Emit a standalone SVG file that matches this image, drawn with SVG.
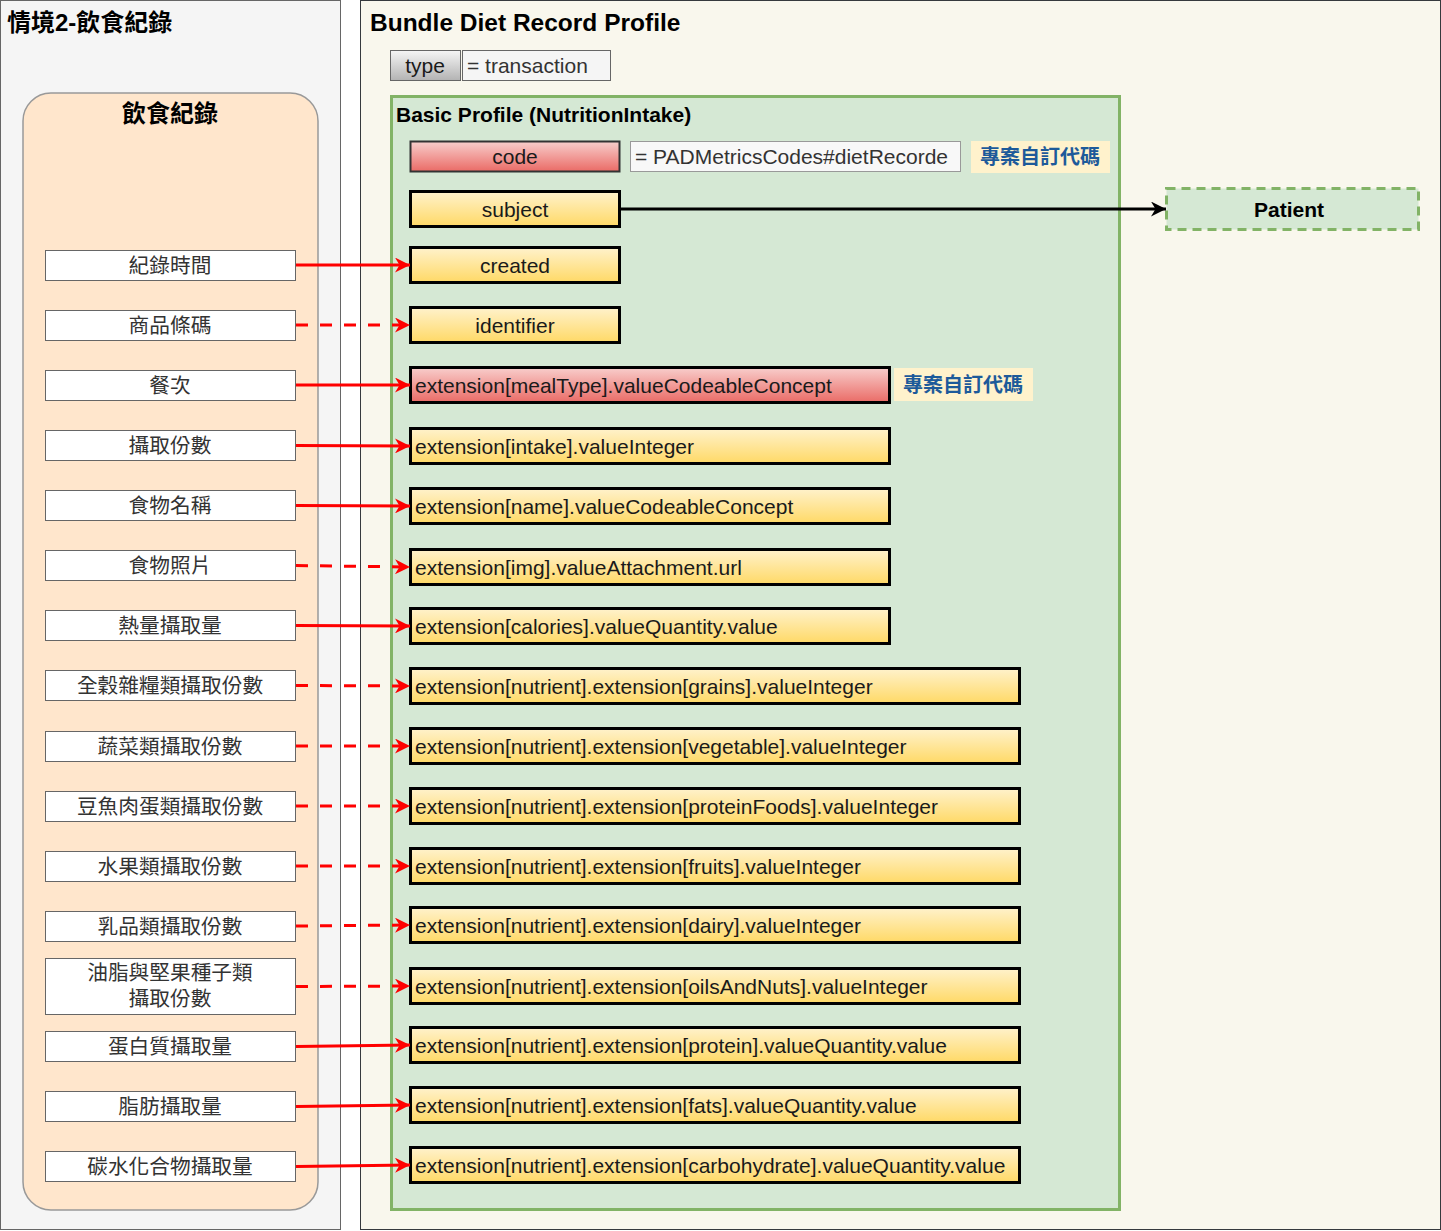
<svg xmlns="http://www.w3.org/2000/svg" width="1441" height="1231" viewBox="0 0 1441 1231">
  <defs>
    <linearGradient id="gYellow" x1="0" y1="0" x2="0" y2="1">
      <stop offset="0" stop-color="#fff2cc"/>
      <stop offset="1" stop-color="#ffd966"/>
    </linearGradient>
    <linearGradient id="gRed" x1="0" y1="0" x2="0" y2="1">
      <stop offset="0" stop-color="#f8cecc"/>
      <stop offset="1" stop-color="#ea6b66"/>
    </linearGradient>
    <linearGradient id="gGray" x1="0" y1="0" x2="0" y2="1">
      <stop offset="0" stop-color="#f5f5f5"/>
      <stop offset="1" stop-color="#b3b3b3"/>
    </linearGradient>
    <marker id="redHead" viewBox="0 0 10 10" refX="10" refY="5" markerWidth="5" markerHeight="5" orient="auto" markerUnits="strokeWidth">
      <path d="M0,0 L10,5 L0,10 L3,5 Z" fill="#ff0000"/>
    </marker>
    <marker id="blackHead" viewBox="0 0 10 10" refX="10" refY="5" markerWidth="5" markerHeight="5" orient="auto" markerUnits="strokeWidth">
      <path d="M0,0 L10,5 L0,10 L3,5 Z" fill="#000000"/>
    </marker>
  </defs>
  <style>
    text { font-family: "Liberation Sans", Arial, "Noto Sans CJK TC", sans-serif; }
    .title { font-size: 24.5px; font-weight: bold; fill: #000; }
    .sub { font-size: 21px; font-weight: bold; fill: #000; }
    .item rect { fill: #ffffff; stroke: #666666; stroke-width: 1; }
    .item text { font-size: 20.7px; fill: #333333; text-anchor: middle; }
    .yel rect { fill: url(#gYellow); stroke: #000; stroke-width: 3; }
    .red rect { fill: url(#gRed); stroke: #000; stroke-width: 3; }
    .fld text { font-size: 21px; fill: #1a1a1a; }
    .ctr text { text-anchor: middle; }
    .note rect { fill: #fff2cc; stroke: none; }
    .note text { font-size: 20px; font-weight: bold; fill: #1d5a9a; text-anchor: middle; }
    .val rect { fill: #f8f8f8; stroke: #999999; stroke-width: 1; }
    .val text { font-size: 21px; fill: #333333; }
    .link { stroke: #ff0000; stroke-width: 3; fill: none; marker-end: url(#redHead); }
    .dash { stroke-dasharray: 12 12; }
  </style>

  <!-- scenario panel -->
  <g id="scenario">
    <rect x="0.5" y="0.5" width="340" height="1229" fill="#f5f5f5" stroke="#666666"/>
    <text class="title" x="7" y="31" style="font-size:24px">情境2-飲食紀錄</text>
  </g>

  <!-- bundle panel -->
  <g id="bundle">
    <rect x="360.5" y="0.5" width="1080" height="1229" fill="#f9f7ed" stroke="#36393d"/>
    <text class="title" x="370" y="31">Bundle Diet Record Profile</text>
  </g>

  <g id="type">
    <rect x="390.5" y="50.5" width="70" height="30" fill="url(#gGray)" stroke="#666666"/>
    <text x="425" y="73" font-size="21" text-anchor="middle" fill="#1a1a1a">type</text>
    <rect x="462.5" y="50.5" width="148" height="30" fill="#f5f5f5" stroke="#666666"/>
    <text x="467" y="73" font-size="21" fill="#333333">= transaction</text>
  </g>

  <!-- diet record source group -->
  <g id="dietRecord">
    <rect x="23" y="93" width="295" height="1117" rx="28" ry="28" fill="#ffe6cc" stroke="#999999" stroke-width="1.5"/>
    <text class="title" x="170" y="122" text-anchor="middle" style="font-size:24px">飲食紀錄</text>
  </g>

  <!-- NutritionIntake profile -->
  <g id="nutritionIntake">
    <rect x="391.5" y="96.5" width="728" height="1113" fill="#d5e8d4" stroke="#82b366" stroke-width="3"/>
    <text class="sub" x="396" y="122">Basic Profile (NutritionIntake)</text>
  </g>

  <!-- source items -->
  <g id="src-time" class="item"><rect x="45.5" y="250.5" width="250" height="30"/><text x="170" y="273">紀錄時間</text></g>
  <g id="src-barcode" class="item"><rect x="45.5" y="310.5" width="250" height="30"/><text x="170" y="333">商品條碼</text></g>
  <g id="src-meal" class="item"><rect x="45.5" y="370.5" width="250" height="30"/><text x="170" y="393">餐次</text></g>
  <g id="src-servings" class="item"><rect x="45.5" y="430.5" width="250" height="30"/><text x="170" y="453">攝取份數</text></g>
  <g id="src-foodname" class="item"><rect x="45.5" y="490.5" width="250" height="30"/><text x="170" y="513">食物名稱</text></g>
  <g id="src-photo" class="item"><rect x="45.5" y="550.5" width="250" height="30"/><text x="170" y="573">食物照片</text></g>
  <g id="src-calories" class="item"><rect x="45.5" y="610.5" width="250" height="30"/><text x="170" y="633">熱量攝取量</text></g>
  <g id="src-grains" class="item"><rect x="45.5" y="670.5" width="250" height="30"/><text x="170" y="693">全穀雜糧類攝取份數</text></g>
  <g id="src-veg" class="item"><rect x="45.5" y="731.5" width="250" height="30"/><text x="170" y="754">蔬菜類攝取份數</text></g>
  <g id="src-proteinfoods" class="item"><rect x="45.5" y="791.5" width="250" height="30"/><text x="170" y="814">豆魚肉蛋類攝取份數</text></g>
  <g id="src-fruits" class="item"><rect x="45.5" y="851.5" width="250" height="30"/><text x="170" y="874">水果類攝取份數</text></g>
  <g id="src-dairy" class="item"><rect x="45.5" y="911.5" width="250" height="30"/><text x="170" y="934">乳品類攝取份數</text></g>
  <g id="src-oils" class="item"><rect x="45.5" y="958.5" width="250" height="56"/><text x="170" y="980">油脂與堅果種子類</text><text x="170" y="1006">攝取份數</text></g>
  <g id="src-protein" class="item"><rect x="45.5" y="1031.5" width="250" height="30"/><text x="170" y="1054">蛋白質攝取量</text></g>
  <g id="src-fats" class="item"><rect x="45.5" y="1091.5" width="250" height="30"/><text x="170" y="1114">脂肪攝取量</text></g>
  <g id="src-carb" class="item"><rect x="45.5" y="1151.5" width="250" height="30"/><text x="170" y="1174">碳水化合物攝取量</text></g>

  <!-- profile elements -->
  <g id="el-code" class="fld red ctr"><rect x="410.5" y="141.5" width="209" height="30" style="stroke:#333333;stroke-width:2"/><text x="515" y="164">code</text></g>
  <g id="el-code-value" class="val"><rect x="630.5" y="141.5" width="330" height="30"/><text x="635" y="164">= PADMetricsCodes#dietRecorde</text></g>
  <g id="note-code" class="note"><rect x="971" y="141" width="139" height="32"/><text x="1040" y="164">專案自訂代碼</text></g>
  <g id="el-subject" class="fld yel ctr"><rect x="410.5" y="191.5" width="209" height="35"/><text x="515" y="216.5">subject</text></g>
  <g id="el-created" class="fld yel ctr"><rect x="410.5" y="247.5" width="209" height="35"/><text x="515" y="272.5">created</text></g>
  <g id="el-identifier" class="fld yel ctr"><rect x="410.5" y="307.5" width="209" height="35"/><text x="515" y="332.5">identifier</text></g>
  <g id="el-mealtype" class="fld red"><rect x="410.5" y="367.5" width="479" height="35"/><text x="415" y="392.5">extension[mealType].valueCodeableConcept</text></g>
  <g id="note-mealtype" class="note"><rect x="894" y="368" width="139" height="33"/><text x="963" y="392">專案自訂代碼</text></g>
  <g id="el-intake" class="fld yel"><rect x="410.5" y="428.5" width="479" height="35"/><text x="415" y="453.5">extension[intake].valueInteger</text></g>
  <g id="el-name" class="fld yel"><rect x="410.5" y="488.5" width="479" height="35"/><text x="415" y="513.5">extension[name].valueCodeableConcept</text></g>
  <g id="el-img" class="fld yel"><rect x="410.5" y="549.5" width="479" height="35"/><text x="415" y="574.5">extension[img].valueAttachment.url</text></g>
  <g id="el-calories" class="fld yel"><rect x="410.5" y="608.5" width="479" height="35"/><text x="415" y="633.5">extension[calories].valueQuantity.value</text></g>
  <g id="el-grains" class="fld yel"><rect x="410.5" y="668.5" width="609" height="35"/><text x="415" y="693.5">extension[nutrient].extension[grains].valueInteger</text></g>
  <g id="el-vegetable" class="fld yel"><rect x="410.5" y="728.5" width="609" height="35"/><text x="415" y="753.5">extension[nutrient].extension[vegetable].valueInteger</text></g>
  <g id="el-proteinfoods" class="fld yel"><rect x="410.5" y="788.5" width="609" height="35"/><text x="415" y="813.5">extension[nutrient].extension[proteinFoods].valueInteger</text></g>
  <g id="el-fruits" class="fld yel"><rect x="410.5" y="848.5" width="609" height="35"/><text x="415" y="873.5">extension[nutrient].extension[fruits].valueInteger</text></g>
  <g id="el-dairy" class="fld yel"><rect x="410.5" y="907.5" width="609" height="35"/><text x="415" y="932.5">extension[nutrient].extension[dairy].valueInteger</text></g>
  <g id="el-oils" class="fld yel"><rect x="410.5" y="968.5" width="609" height="35"/><text x="415" y="993.5">extension[nutrient].extension[oilsAndNuts].valueInteger</text></g>
  <g id="el-protein" class="fld yel"><rect x="410.5" y="1027.5" width="609" height="35"/><text x="415" y="1052.5">extension[nutrient].extension[protein].valueQuantity.value</text></g>
  <g id="el-fats" class="fld yel"><rect x="410.5" y="1087.5" width="609" height="35"/><text x="415" y="1112.5">extension[nutrient].extension[fats].valueQuantity.value</text></g>
  <g id="el-carb" class="fld yel"><rect x="410.5" y="1147.5" width="609" height="35"/><text x="415" y="1172.5">extension[nutrient].extension[carbohydrate].valueQuantity.value</text></g>

  <!-- referenced resource -->
  <g id="patient">
    <rect x="1166.5" y="188.5" width="252" height="41" fill="#d5e8d4" stroke="#82b366" stroke-width="3" stroke-dasharray="9 6"/>
    <text x="1289" y="216.5" font-size="21" font-weight="bold" text-anchor="middle" fill="#000">Patient</text>
  </g>

  <!-- connectors -->
  <g id="connectors">
    <line x1="620" y1="209" x2="1166" y2="209" stroke="#000" stroke-width="3" marker-end="url(#blackHead)"/>
    <line class="link" x1="296" y1="265" x2="410" y2="265"/>
    <line class="link dash" x1="296" y1="325" x2="410" y2="325"/>
    <line class="link" x1="296" y1="385" x2="410" y2="385"/>
    <line class="link" x1="296" y1="445.5" x2="410" y2="446"/>
    <line class="link" x1="296" y1="505.5" x2="410" y2="506"/>
    <line class="link dash" x1="296" y1="565.5" x2="410" y2="567"/>
    <line class="link" x1="296" y1="625.5" x2="410" y2="626"/>
    <line class="link dash" x1="296" y1="685.5" x2="410" y2="686"/>
    <line class="link dash" x1="296" y1="746" x2="410" y2="746"/>
    <line class="link dash" x1="296" y1="806" x2="410" y2="806"/>
    <line class="link dash" x1="296" y1="866" x2="410" y2="866"/>
    <line class="link dash" x1="296" y1="926" x2="410" y2="925"/>
    <line class="link dash" x1="296" y1="986.5" x2="410" y2="986"/>
    <line class="link" x1="296" y1="1046.5" x2="410" y2="1045"/>
    <line class="link" x1="296" y1="1106.5" x2="410" y2="1105"/>
    <line class="link" x1="296" y1="1166.5" x2="410" y2="1165"/>
  </g>
</svg>
